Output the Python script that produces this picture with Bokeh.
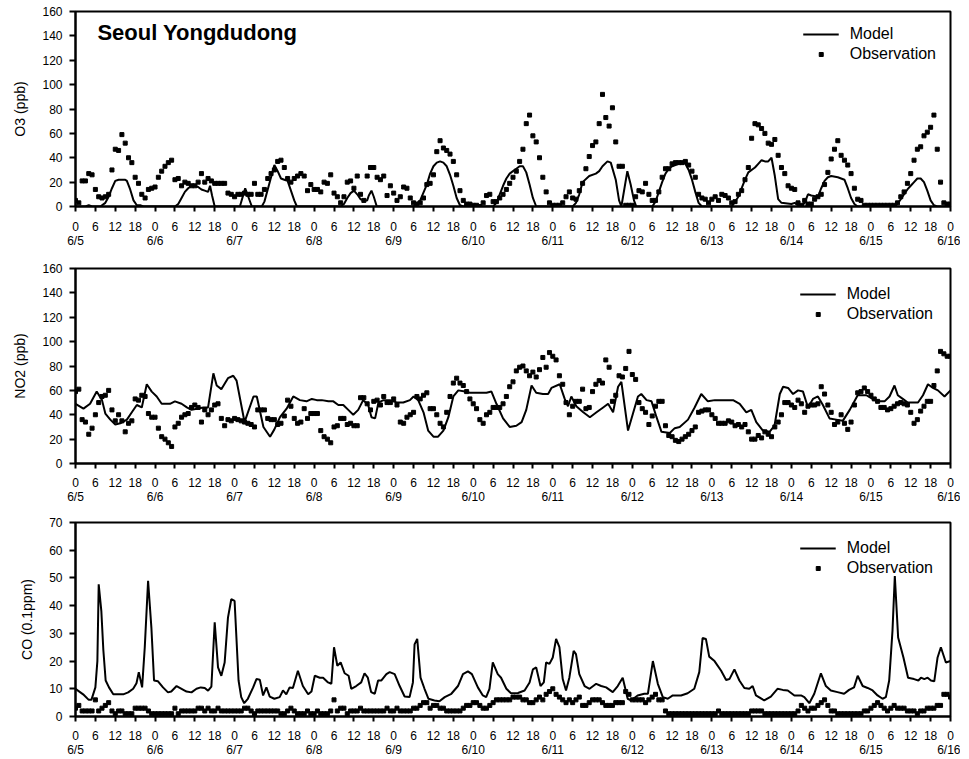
from bokeh.plotting import figure
from bokeh.models import Range1d, LinearAxis, FixedTicker, Label
from bokeh.layouts import column
from bokeh.embed import file_html
from bokeh.resources import INLINE

FONT = "Liberation Sans"

# ---------------- data ----------------
hours = list(range(265))                 # hourly, 6/5 00h .. 6/16 00h
hour_ticks = list(range(0, 265, 6))
day_ticks = list(range(0, 265, 24))
day_names = ["6/5", "6/6", "6/7", "6/8", "6/9", "6/10", "6/11",
             "6/12", "6/13", "6/14", "6/15", "6/16"]

o3_obs = [
    5, 3, 21, 21, 27, 26, 14, 8, 7, 8, 10, 30, 47, 46, 59, 52, 40, 36, 24, 19, 10, 7, 14, 15,
    16, 24, 29, 33, 36, 38, 22, 23, 17, 20, 19, 17, 17, 20, 27, 20, 23, 21, 19, 19, 19, 19, 11, 10,
    8, 10, 10, 11, 10, 10, 19, 10, 10, 14, 23, 27, 30, 37, 38, 32, 23, 20, 23, 25, 27, 25, 13, 18,
    14, 14, 12, 20, 19, 26, 11, 8, 3, 8, 20, 21, 15, 25, 10, 5, 25, 32, 32, 24, 22, 25, 9, 17,
    11, 5, 8, 16, 15, 7, 3, 2, 3, 7, 18, 19, 26, 45, 54, 48, 46, 43, 37, 26, 13, 5, 2, 2,
    1, 1, 0, 3, 9, 10, 4, 4, 7, 10, 14, 19, 24, 29, 37, 47, 68, 75, 58, 53, 40, 24, 12, 3,
    1, 1, 1, 3, 8, 12, 7, 6, 13, 19, 31, 41, 50, 53, 68, 92, 73, 66, 81, 53, 33, 33, 1, 1,
    1, 8, 13, 12, 19, 10, 5, 5, 12, 24, 31, 31, 35, 36, 36, 36, 37, 34, 29, 24, 10, 7, 6, 3,
    6, 8, 5, 10, 9, 7, 3, 4, 10, 13, 22, 32, 56, 68, 67, 64, 60, 52, 51, 55, 42, 32, 27, 17,
    15, 14, 3, 1, 5, 2, 2, 6, 8, 10, 18, 28, 39, 47, 54, 42, 38, 34, 27, 15, 6, 5, 1, 1,
    1, 1, 1, 1, 1, 1, 1, 1, 3, 8, 12, 19, 27, 38, 47, 49, 58, 61, 65, 75, 47, 20, 3, 2,
    2,
]

o3_model_hour = [
    0, 3, 4, 5, 7.5, 9, 10, 11, 12, 13, 15, 15.5, 16.5, 17.5, 18.5, 19.5, 20.5,
    30, 31, 32, 33, 34, 35, 36, 37, 38, 39, 40, 40.6, 41.2, 42,
    49.6, 51.2, 53.2, 56.2, 57, 58, 59, 60, 61, 62, 63, 64, 65, 66, 66.8,
    80, 81, 82, 83, 84, 85, 86, 87, 88, 88.5, 89.3, 90, 90.9,
    102, 104, 106, 107, 108, 109, 110, 111, 112, 113, 114, 115, 116, 117,
    126, 127, 128, 129, 130, 131, 132, 133, 134, 135, 136, 137, 138, 139,
    150, 151, 152, 153, 155, 157, 158, 159, 160.5, 161.5, 163, 164, 164.7, 166.5, 167.5, 168.5, 169.2,
    174, 175, 176, 177, 178, 179, 180, 181, 182, 183, 184, 185, 186, 187, 188, 189,
    198, 200, 201, 202, 203, 205, 206, 207, 208, 209, 210, 211, 212, 213, 216, 217, 218, 219,
    220, 221, 222, 224, 225, 226, 227, 228, 230, 232, 233, 234, 235, 236,
    247, 248, 249, 250, 251, 252, 253, 254, 255, 256, 257, 258, 259, 260, 264,
]
o3_model_value = [
    0, 0, 1, 0, 0, 3, 8, 15, 21, 22, 22, 21, 14, 5, 1, 1, 0,
    0, 2, 7, 12, 15, 17, 17, 16, 14, 13, 12, 17, 9, 0,
    0, 15, 0, 0, 4, 14, 24, 34, 29, 23, 22, 21, 13, 5, 0,
    0, 2, 7, 11, 13, 10, 6, 5, 5, 9, 13, 8, 0,
    0, 5, 18, 27, 33, 36, 37, 36, 33, 26, 17, 7, 1, 0,
    0, 3, 10, 17, 23, 27, 29, 31, 33, 33, 28, 18, 7, 0,
    0, 3, 10, 20, 25, 27, 29, 33, 37, 36, 22, 5, 0, 29, 18, 5, 0,
    0, 4, 12, 20, 27, 31, 33, 34, 35, 36, 35, 30, 22, 12, 3, 0,
    0, 8, 15, 22, 28, 32, 35, 38, 37, 37, 40, 25, 6, 3, 2, 3, 1, 0,
    3, 10, 9, 8, 15, 21, 24, 25, 24, 22, 15, 7, 2, 0,
    0, 2, 6, 10, 14, 17, 20, 23, 23, 20, 13, 5, 1, 0, 0,
]

no2_obs = [
    59, 61, 36, 34, 24, 29, 40, 50, 55, 56, 60, 44, 35, 40, 35, 26, 33, 35, 53, 52, 56, 55, 41, 38,
    38, 29, 22, 20, 17, 14, 30, 33, 38, 40, 41, 46, 48, 46, 34, 44, 40, 44, 48, 49, 37, 31, 36, 35,
    37, 36, 35, 34, 33, 32, 30, 44, 44, 44, 37, 36, 36, 32, 33, 39, 52, 47, 37, 33, 34, 45, 37, 41,
    41, 41, 27, 22, 20, 17, 30, 31, 37, 37, 32, 33, 31, 31, 54, 54, 49, 44, 51, 52, 48, 55, 50, 50,
    53, 48, 34, 33, 38, 40, 42, 55, 53, 56, 58, 45, 45, 40, 33, 30, 42, 55, 66, 70, 66, 64, 59, 53,
    49, 45, 36, 33, 40, 42, 46, 46, 46, 49, 55, 63, 67, 76, 79, 80, 76, 72, 75, 71, 77, 87, 79, 91,
    88, 85, 72, 65, 50, 40, 47, 51, 51, 61, 45, 46, 59, 65, 68, 66, 85, 79, 51, 56, 72, 71, 78, 92,
    73, 69, 50, 45, 42, 32, 39, 47, 51, 51, 31, 23, 22, 19, 18, 20, 22, 24, 27, 30, 42, 43, 44, 44,
    40, 37, 33, 33, 33, 35, 34, 31, 32, 30, 32, 26, 20, 20, 23, 21, 26, 24, 22, 30, 34, 40, 50, 50,
    48, 46, 52, 49, 42, 47, 48, 48, 49, 63, 57, 48, 42, 32, 34, 40, 33, 28, 34, 48, 58, 59, 62, 59,
    56, 53, 51, 46, 46, 44, 45, 47, 49, 50, 49, 48, 42, 33, 36, 43, 47, 51, 51, 64, 76, 92, 90, 88,
    88,
]

no2_model_hour = [
    0, 2.4, 4.4, 6.4, 8, 9, 10.5, 12, 13.5, 15.5, 17, 18.5, 20, 21.5, 23, 24.5, 26, 28.5, 30,
    32, 33.6, 35, 36.6, 38.6, 40, 41.6, 42.6, 44, 46, 47.6, 48.6, 51, 53.7, 54.7, 56.7, 58.7,
    60, 61.7, 63.7, 65.7, 67.7, 69.7, 71.3, 72.8, 74.3, 76.3, 77.8, 79.3, 80.8, 82.3, 83.8,
    85.3, 86.8, 88.3, 89.3, 90.4, 91.4, 92.9, 94.9, 96.9, 98.9, 100.9, 102, 103.4, 105, 106.4,
    108, 109.4, 111, 112.5, 114, 115.5, 117.5, 119, 122, 124, 125.5, 127, 129, 131, 133, 134.6,
    136, 137.6, 139, 141, 142.6, 143.6, 146.1, 147.6, 148.6, 149.6, 151.1, 153.2, 155.2, 157.2,
    159.2, 160.7, 162.2, 163.7, 164.7, 166.7, 168.2, 169.7, 170.7, 172.3, 173.8, 175.3, 176.8,
    179.3, 180.8, 182.3, 184.8, 186.8, 188.8, 190.8, 192.9, 195.4, 198.4, 200.4, 202.4, 203.9,
    205.4, 207.4, 209.4, 210.9, 212.5, 213.5, 215, 216.5, 218, 219.5, 221, 222.5, 224, 225.5,
    227.5, 229.5, 231.5, 233.6, 236, 238.6, 241.1, 242.6, 244.1, 245.6, 247.1, 248.1, 249.6,
    251.1, 252.7, 254.2, 255.7, 257.2, 258.7, 260.2, 262.2, 264,
]
no2_model_value = [
    49, 45, 49, 59, 52, 41, 36, 32, 33, 36, 42, 48, 46, 65, 59, 55, 49, 49, 51,
    49, 46, 44, 45, 46, 46, 74, 64, 61, 70, 72, 68, 34, 55, 55, 30, 22,
    28, 38, 45, 55, 52, 51, 53, 52, 52, 51, 51, 48, 48, 44, 40,
    44, 52, 48, 38, 37, 50, 52, 52, 50, 50, 52, 55, 52, 42, 27,
    22, 22, 27, 38, 55, 60, 59, 58, 58, 58, 59, 49, 37, 30, 31, 34,
    44, 64, 58, 57, 57, 62, 65, 53, 47, 55, 47, 42, 38, 42,
    46, 49, 42, 63, 67, 27, 41, 55, 57, 52, 51, 38, 26,
    25, 29, 30, 36, 46, 57, 51, 52, 52, 52, 49, 42, 44,
    34, 27, 26, 31, 57, 63, 62, 57, 60, 59, 46, 53, 55, 48,
    37, 36, 35, 44, 56, 56, 52, 51, 51, 55, 64, 56, 53,
    50, 50, 50, 56, 65, 62, 60, 55, 60,
]

co_obs = [
    3, 4, 2, 2, 2, 2, 6, 2, 3, 4, 5, 2, 1, 2, 2, 1, 1, 1, 3, 3, 3, 3, 2, 1,
    1, 1, 1, 1, 1, 1, 3, 1, 2, 2, 2, 2, 2, 3, 3, 2, 3, 2, 2, 3, 2, 2, 2, 2,
    2, 2, 2, 3, 3, 2, 1, 2, 2, 2, 2, 2, 2, 2, 1, 1, 2, 3, 2, 1, 1, 1, 2, 1,
    1, 2, 1, 1, 1, 2, 6, 2, 3, 3, 1, 2, 2, 2, 3, 2, 2, 2, 2, 2, 2, 2, 3, 2,
    2, 3, 2, 2, 2, 2, 3, 3, 4, 5, 5, 3, 4, 4, 3, 3, 2, 2, 2, 2, 2, 3, 4, 4,
    5, 5, 4, 3, 3, 4, 5, 6, 6, 6, 6, 6, 7, 7, 7, 6, 6, 5, 5, 6, 7, 6, 8, 9,
    10, 8, 7, 6, 5, 6, 5, 6, 7, 4, 4, 5, 6, 6, 6, 5, 4, 4, 4, 5, 5, 5, 9, 8,
    6, 6, 6, 6, 5, 6, 7, 8, 6, 6, 2, 1, 1, 1, 1, 1, 1, 1, 1, 1, 1, 1, 1, 1,
    1, 1, 2, 1, 1, 1, 1, 1, 1, 1, 1, 1, 2, 2, 2, 2, 1, 1, 1, 1, 1, 1, 1, 1,
    1, 1, 2, 4, 3, 2, 3, 3, 4, 5, 6, 4, 2, 2, 1, 1, 1, 1, 1, 1, 1, 1, 2, 2,
    3, 4, 5, 4, 3, 2, 3, 4, 3, 3, 3, 2, 2, 2, 1, 2, 2, 3, 3, 3, 4, 4, 8, 8,
    7,
]

co_model_hour = [
    0, 2.3, 4, 4.8, 6, 6.6, 7, 7.8, 8.4, 9.1, 10.1, 11.4, 13.1, 14.4, 15.9, 17.4, 18.4, 19.1,
    20.1, 20.9, 21.9, 22.9, 23.7, 24.9, 26.4, 27.9, 28.9, 30.5, 32, 33.5, 35, 36.5, 37.8, 39,
    40, 41, 42, 43, 44, 45, 46, 47, 48, 49.2, 50, 50.9, 52, 53.6, 54.6, 55.6, 56.6, 57.6, 58.6,
    60, 61.6, 62.6, 63.6, 64.6, 65.6, 67.1, 68.6, 70.2, 71.2, 72.2, 73.7, 74.7, 76.2, 77.2, 78,
    79, 80, 81.2, 82.4, 83.2, 84.7, 86.2, 87.2, 88.2, 89.2, 90.3, 91.3, 92.3, 93.8, 94.8, 96.3,
    97.8, 99.3, 100.8, 101.8, 102.3, 103.1, 104.1, 105.3, 106.5, 108.3, 109.8, 111.4, 113.4,
    115.4, 116.9, 118.4, 119.6, 121.4, 122.9, 123.9, 124.9, 125.9, 127.4, 128.4, 130, 131.4,
    133.5, 135.5, 137, 138, 139, 140.3, 141.3, 142, 143, 144, 145, 146, 147, 148, 149, 150.3,
    151, 152, 153.6, 155.1, 157.1, 158.6, 160.1, 162.1, 163.6, 165.1, 166.6, 167.6, 169.6,
    171.6, 172.7, 174.2, 175.7, 177.2, 178.7, 180.2, 182.7, 184.7, 186.7, 188.2, 189.2, 190.2,
    191.2, 192.8, 194.8, 196.3, 197.3, 198.8, 200.3, 201.8, 203.3, 204.3, 205.3, 207.8, 209.8,
    211.8, 213.4, 214.9, 216.9, 218.9, 219.9, 221.4, 222.9, 224.9, 226.4, 227.9, 229.9, 231.9,
    233.4, 234.9, 236, 237.5, 239, 240.5, 242, 243.5, 244.5, 245.5, 246.5, 247.2, 248.2, 249.8,
    251.2, 253, 254.3, 255.1, 256.1, 257.1, 258.1, 259.1, 260.1, 261.1, 262.6, 264,
]
co_model_value = [
    10, 8, 6, 6, 10.5, 20, 47.7, 38, 24, 13, 10.5, 8, 8, 8, 8.7, 10, 12, 16,
    10.5, 25, 49, 32, 13, 12.7, 10.5, 8.7, 9, 11, 10, 9, 8.7, 10, 10.5, 10.3,
    9.3, 10.8, 34, 17.7, 14.7, 19.5, 35.7, 42.3, 41.7, 13, 7, 4.8, 6.4, 10.5, 13.5, 13.3, 7.6, 10.5, 7.2,
    6.4, 7, 9.4, 8, 10.5, 10.3, 16.5, 11, 8, 9, 14.7, 14, 14, 12.3, 11.8, 25,
    18.3, 19.5, 15.6, 14.7, 10, 11, 12.3, 15.6, 14, 8.8, 8.2, 13, 13, 15.3, 16, 15.3,
    11, 7.2, 7, 12.3, 26, 28, 14, 10, 6.4, 5.8, 5.5, 7, 8.2,
    11, 15.3, 16.3, 15.3, 10.5, 7.6, 7, 10, 19.5, 15.3, 14, 10, 8.4,
    8.5, 9.4, 12.3, 17, 17.7, 11, 12.3, 19.5, 19, 21.3, 28, 25, 13.5, 9.4, 14, 23.7,
    22.5, 15.3, 11, 10, 11.8, 11, 10.5, 8.8, 11, 14, 6.4, 5.8, 7.6,
    8.2, 8.2, 20, 11.8, 7, 6.4, 7.6, 7.6, 8.4, 10, 16, 28.3, 28,
    21.6, 20, 16.5, 13.2, 13.5, 17, 13, 10.3, 10, 11, 7.6, 5.8, 7.2,
    10, 9.6, 9.4, 7.6, 7.6, 7, 4.8, 8.2, 15.6, 11, 9.4, 8.8, 8.2,
    9.6, 10.5, 14.7, 11, 10.3, 9.4, 7.6, 6.4, 7, 13, 31, 50.7, 28.5, 21.3,
    14, 13.5, 13, 14, 13.5, 14, 13, 12.7, 21.3, 25, 19.5, 20,
]

assert len(o3_obs) == 265 and len(no2_obs) == 265 and len(co_obs) == 265
assert len(o3_model_hour) == len(o3_model_value)
assert len(no2_model_hour) == len(no2_model_value)
assert len(co_model_hour) == len(co_model_value)


# ---------------- drawing ----------------
def make_panel(ylabel, ymax, ystep, obs, model_h, model_v, height,
               b_top, b_bottom, b_left, b_right, hour_standoff, date_standoff,
               legend_margin):
    p = figure(width=960, height=height,
               x_range=Range1d(0, 264), y_range=Range1d(0, ymax),
               output_backend="svg", toolbar_location=None,
               min_border_top=b_top, min_border_bottom=b_bottom,
               min_border_left=b_left, min_border_right=b_right,
               background_fill_color="white", border_fill_color="white")
    p.grid.visible = False
    p.outline_line_color = "black"
    p.outline_line_width = 2
    p.outline_line_alpha = 1.0

    p.line(model_h, model_v, line_color="black", line_width=2, legend_label="Model")
    p.scatter(hours, obs, marker="square", size=4, fill_color="black",
              line_color="black", legend_label="Observation")

    # hour axis
    xa = p.xaxis[0]
    xa.ticker = FixedTicker(ticks=hour_ticks)
    xa.major_label_overrides = {h: str(h % 24) for h in hour_ticks}
    xa.axis_line_width = 2
    xa.major_tick_line_width = 2
    xa.major_tick_in = 0
    xa.major_tick_out = 5
    xa.minor_tick_line_color = None
    xa.major_label_standoff = hour_standoff
    xa.major_label_text_font = FONT
    xa.major_label_text_font_size = "12px"
    xa.major_label_text_color = "black"

    # date axis
    da = LinearAxis(ticker=FixedTicker(ticks=day_ticks),
                    major_label_overrides={d: n for d, n in zip(day_ticks, day_names)},
                    major_tick_in=0, major_tick_out=0,
                    major_tick_line_color=None, minor_tick_line_color=None,
                    axis_line_color=None, major_label_standoff=date_standoff,
                    major_label_text_font=FONT, major_label_text_font_size="12px",
                    major_label_text_color="black")
    p.add_layout(da, "below")

    # y axis
    ya = p.yaxis[0]
    ya.ticker = FixedTicker(ticks=list(range(0, ymax + 1, ystep)))
    ya.axis_line_width = 2
    ya.major_tick_line_width = 2
    ya.major_tick_in = 0
    ya.major_tick_out = 6
    ya.minor_tick_line_color = None
    ya.major_label_standoff = 7
    ya.major_label_text_font = FONT
    ya.major_label_text_font_size = "12px"
    ya.major_label_text_color = "black"
    ya.axis_label = ylabel
    ya.axis_label_text_font = FONT
    ya.axis_label_text_font_size = "14px"
    ya.axis_label_text_font_style = "normal"
    ya.axis_label_text_color = "black"
    ya.axis_label_standoff = 11

    lg = p.legend[0]
    lg.location = "top_right"
    lg.border_line_color = None
    lg.background_fill_alpha = 0
    lg.label_text_font = FONT
    lg.label_text_font_size = "16px"
    lg.label_text_color = "black"
    lg.glyph_width = 36
    lg.glyph_height = 10
    lg.label_height = 16
    lg.label_standoff = 11
    lg.padding = 5
    lg.margin = legend_margin
    lg.spacing = 2
    return p


p1 = make_panel("O3 (ppb)", 160, 20, o3_obs, o3_model_hour, o3_model_value,
                height=250, b_top=11, b_bottom=44, b_left=75, b_right=9,
                hour_standoff=10, date_standoff=0, legend_margin=14)
p1.add_layout(Label(x=6.6, y=142.5, text="Seoul Yongdudong", text_font=FONT,
                    text_font_style="bold", text_font_size="22px",
                    text_color="black", text_baseline="alphabetic"))

p2 = make_panel("NO2 (ppb)", 160, 20, no2_obs, no2_model_hour, no2_model_value,
                height=257, b_top=18, b_bottom=44, b_left=75, b_right=9,
                hour_standoff=9, date_standoff=0, legend_margin=17)

p3 = make_panel("CO (0.1ppm)", 70, 10, co_obs, co_model_hour, co_model_value,
                height=252, b_top=15, b_bottom=43, b_left=74, b_right=10,
                hour_standoff=9, date_standoff=0, legend_margin=17)

layout = column(p1, p2, p3, spacing=0)

open("out.html", "w").write(file_html(layout, INLINE, title="Seoul Yongdudong"))
